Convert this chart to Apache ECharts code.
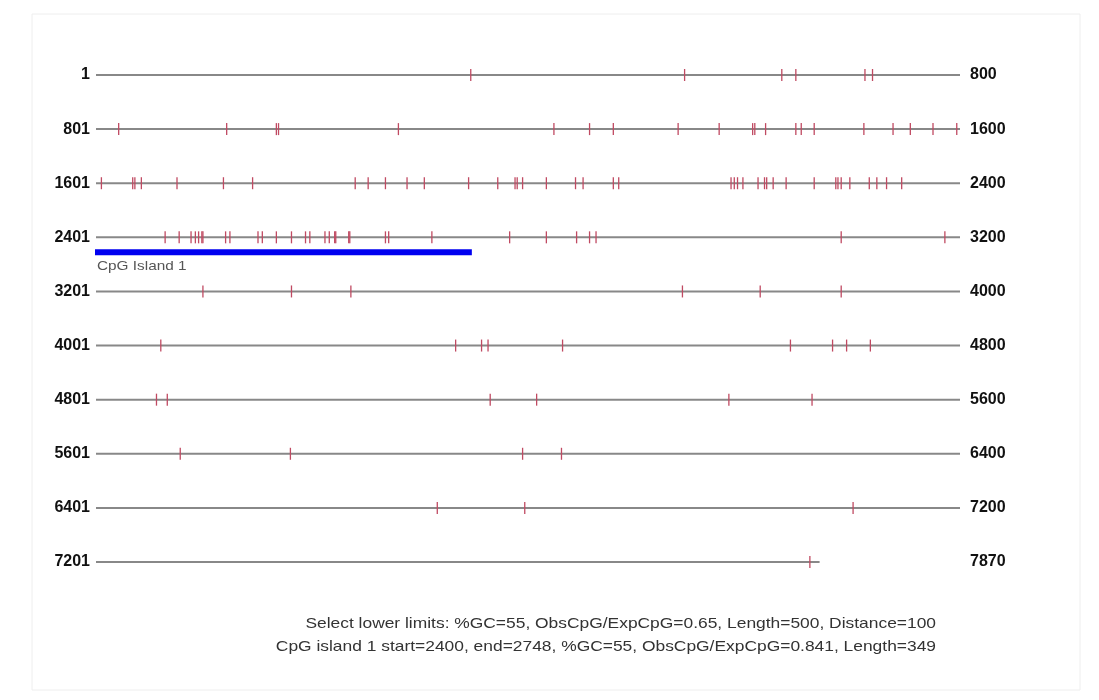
<!DOCTYPE html>
<html>
<head>
<meta charset="utf-8">
<script src="https://cdn.jsdelivr.net/npm/echarts@6/dist/echarts.min.js"></script>
<style>
html,body{margin:0;padding:0;background:#fff;}
#chart{width:1099px;height:700px;}
</style>
</head>
<body>
<div id="chart"></div>
<script>
// ---- data ----
var rowSize = 800;
var seqLength = 7870;
var rowStartLabels = ['1','801','1601','2401','3201','4001','4801','5601','6401','7201'];
var rowEndLabels = ['800','1600','2400','3200','4000','4800','5600','6400','7200','7870'];
var cpgSites = [
  347, 545, 635, 648, 712, 719,
  821, 921, 967, 969, 1080, 1224, 1257, 1279, 1339, 1377, 1408, 1410, 1420, 1448, 1453, 1465, 1511, 1538, 1554, 1575, 1597,
  1605, 1634, 1636, 1642, 1675, 1718, 1745, 1840, 1852, 1868, 1888, 1904, 1945, 1972, 1988, 1990, 1995, 2017, 2044, 2051, 2079, 2084,
  2188, 2191, 2194, 2199, 2213, 2219, 2221, 2227, 2239, 2265, 2285, 2287, 2290, 2298, 2316, 2323, 2332, 2346,
  2464, 2477, 2488, 2492, 2495, 2498, 2499, 2520, 2524, 2550, 2554, 2567, 2581, 2594, 2598, 2612, 2616, 2621, 2622, 2634, 2635,
  2668, 2671, 2711, 2783, 2817, 2845, 2857, 2863, 3090, 3186,
  3299, 3381, 3436, 3743, 3815, 3890,
  4060, 4333, 4357, 4363, 4432, 4643, 4682, 4695, 4717,
  4856, 4866, 5165, 5208, 5386, 5463,
  5678, 5780, 5995, 6031,
  6716, 6797, 7101,
  7861
];
var islands = [{name:'CpG Island 1', start:2400, end:2748}];
var footerLines = [
  'Select lower limits: %GC=55, ObsCpG/ExpCpG=0.65, Length=500, Distance=100',
  'CpG island 1 start=2400, end=2748, %GC=55, ObsCpG/ExpCpG=0.841, Length=349'
];

// ---- derived ----
var nRows = rowStartLabels.length;
var rowLines = [];
for (var r = 0; r < nRows; r++) {
  rowLines.push([r, Math.min(rowSize, seqLength - r * rowSize)]);
}
var siteData = cpgSites.map(function(p){
  var r = Math.floor((p - 1) / rowSize);
  return [p - r * rowSize, r];
});
var islandData = islands.map(function(d){
  var r = Math.floor(d.start / rowSize);
  return [d.start - r * rowSize, d.end - r * rowSize, r, d.name];
});

var chart = echarts.init(document.getElementById('chart'), null, {renderer:'canvas'});
var labelFont = {fontFamily:'Liberation Sans, Arial, sans-serif', fontSize:16, fontWeight:'bold', color:'#111'};
var textFont = '15px Liberation Sans, Arial, sans-serif';

chart.setOption({
  animation:false,
  backgroundColor:'#fff',
  grid:{left:96, right:139, top:75, bottom:138},
  xAxis:{type:'value', min:0, max:rowSize, show:false},
  yAxis:[
    {type:'category', data:rowStartLabels, inverse:true, boundaryGap:false, position:'left',
     axisLine:{show:false}, axisTick:{show:false}, splitLine:{show:false},
     axisLabel:Object.assign({margin:6}, labelFont)},
    {type:'category', data:rowEndLabels, inverse:true, boundaryGap:false, position:'right',
     axisLine:{show:false}, axisTick:{show:false}, splitLine:{show:false},
     axisLabel:Object.assign({margin:10}, labelFont)}
  ],
  series:[
    {
      type:'custom', name:'rows', data:rowLines, z:1,
      renderItem:function(params, api){
        var r = api.value(0), len = api.value(1);
        var a = api.coord([0, r]), b = api.coord([len, r]);
        return {type:'line', shape:{x1:a[0], y1:a[1], x2:b[0], y2:b[1]},
                style:{stroke:'#888888', lineWidth:2}};
      }
    },
    {
      type:'custom', name:'CpG', data:siteData, z:2,
      renderItem:function(params, api){
        var c = api.coord([api.value(0), api.value(1)]);
        return {type:'line', shape:{x1:c[0], y1:c[1]-6, x2:c[0], y2:c[1]+6},
                style:{stroke:'#c04a62', lineWidth:1.3}};
      }
    },
    {
      type:'custom', name:'islands', data:islandData, z:3,
      renderItem:function(params, api){
        var a = api.coord([api.value(0), api.value(2)]);
        var b = api.coord([api.value(1), api.value(2)]);
        return {type:'group', children:[
          {type:'rect', shape:{x:a[0]-1, y:a[1]+12, width:b[0]-a[0]+1, height:6},
           style:{fill:'#0000f0'}},
          {type:'text', x:a[0]+1, y:a[1]+29, scaleX:1.18,
           style:{text:api.value(3), x:0, y:0, textVerticalAlign:'middle',
           font:'13px Liberation Sans, Arial, sans-serif', fill:'#555'}}
        ]};
      }
    }
  ],
  graphic:[
    {type:'rect', shape:{x:32, y:14, width:1048, height:676}, style:{fill:'none', stroke:'#eeeeee', lineWidth:1}, silent:true},
    {type:'text', x:936, y:624, scaleX:1.16, style:{text:footerLines[0], x:0, y:0, textAlign:'right', textVerticalAlign:'middle', font:textFont, fill:'#333'}},
    {type:'text', x:936, y:647, scaleX:1.16, style:{text:footerLines[1], x:0, y:0, textAlign:'right', textVerticalAlign:'middle', font:textFont, fill:'#333'}}
  ]
});
</script>
</body>
</html>
